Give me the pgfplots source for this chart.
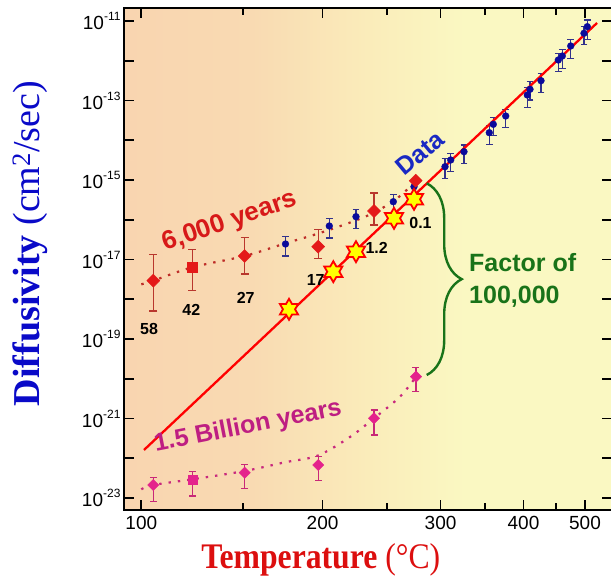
\documentclass[border=0pt]{standalone}
\usepackage{fontspec}
\setmainfont{Liberation Sans}
\newfontfamily\serifb{Liberation Serif}
\usepackage{graphicx}
\usepackage{pgfplots}
\pgfplotsset{compat=1.18}
\usetikzlibrary{decorations.pathreplacing}

\definecolor{bgL}{RGB}{249,213,176}
\definecolor{bgL2}{RGB}{249,218,178}
\definecolor{bgM}{RGB}{250,236,186}
\definecolor{bgR}{RGB}{250,248,194}
\definecolor{redM}{RGB}{228,25,25}
\definecolor{redE}{RGB}{185,55,45}
\definecolor{redDot}{RGB}{190,45,40}
\definecolor{magM}{RGB}{228,35,140}
\definecolor{magE}{RGB}{200,40,120}
\definecolor{magDot}{RGB}{200,40,125}
\definecolor{bluM}{RGB}{10,10,155}
\definecolor{bluE}{RGB}{50,50,140}
\definecolor{grn}{RGB}{25,115,25}
\definecolor{dataB}{RGB}{25,40,195}
\definecolor{redT}{RGB}{215,25,25}
\definecolor{magT}{RGB}{190,30,130}
\definecolor{ylab}{RGB}{10,10,200}
\definecolor{xlab}{RGB}{220,15,15}

\pgfdeclarehorizontalshading{bgshade}{100bp}{color(0bp)=(bgL); color(25bp)=(bgL); color(38bp)=(bgL2); color(50bp)=(bgM); color(60bp)=(bgR); color(75bp)=(bgR); color(100bp)=(bgR)}

\pgfdeclareplotmark{hexstar}{%
  \pgfpathmoveto{\pgfpointpolar{90}{\pgfplotmarksize}}%
  \pgfpathlineto{\pgfpointpolar{120}{0.577\pgfplotmarksize}}%
  \pgfpathlineto{\pgfpointpolar{150}{\pgfplotmarksize}}%
  \pgfpathlineto{\pgfpointpolar{180}{0.577\pgfplotmarksize}}%
  \pgfpathlineto{\pgfpointpolar{210}{\pgfplotmarksize}}%
  \pgfpathlineto{\pgfpointpolar{240}{0.577\pgfplotmarksize}}%
  \pgfpathlineto{\pgfpointpolar{270}{\pgfplotmarksize}}%
  \pgfpathlineto{\pgfpointpolar{300}{0.577\pgfplotmarksize}}%
  \pgfpathlineto{\pgfpointpolar{330}{\pgfplotmarksize}}%
  \pgfpathlineto{\pgfpointpolar{0}{0.577\pgfplotmarksize}}%
  \pgfpathlineto{\pgfpointpolar{30}{\pgfplotmarksize}}%
  \pgfpathlineto{\pgfpointpolar{60}{0.577\pgfplotmarksize}}%
  \pgfpathclose
  \pgfusepathqfillstroke}

\newcommand{\tl}[1]{10\raisebox{9pt}{\fontsize{12}{12}\selectfont -#1}}

\begin{document}
\begin{tikzpicture}
\useasboundingbox (-124pt,-68pt) rectangle (487pt,510pt);
\begin{axis}[
  at={(0pt,0pt)}, anchor=south west,
  scale only axis, width=488pt, height=502pt,
  x dir=reverse, xmin=1.2090, xmax=2.7340,
  ymin=-23.302, ymax=-10.673,
  clip=false,
  axis line style={line width=2.3pt},
  xtick={2.67989,2.11349,1.74474,1.48555,1.29341},
  xticklabels={100,200,300,400,500},
  minor xtick={2.36323,1.91150,1.60475,1.38284},
  ytick={-23,-22,...,-11},
  yticklabels={\tl{23},,\tl{21},,\tl{19},,\tl{17},,\tl{15},,\tl{13},,\tl{11}},
  tick align=inside,
  major tick length=10pt, minor tick length=7pt,
  every tick/.style={line width=1.8pt, black},
  ticklabel style={font=\fontsize{19}{22}\selectfont},
  xticklabel style={yshift=-3pt},
  axis background/.style={shade, shading=bgshade},
]
% dotted curves
\addplot[no markers, smooth, tension=0.55, draw=redDot, line width=2.2pt, dash pattern=on 2.4pt off 7pt] coordinates {
(2.6799,-17.624) (2.6424,-17.533) (2.5205,-17.196) (2.3568,-16.912) (2.2308,-16.597)
(2.1121,-16.308) (1.9755,-15.906) (1.8871,-15.503) (1.8215,-15.025)};
\addplot[no markers, smooth, tension=0.55, draw=magDot, line width=2.2pt, dash pattern=on 2.4pt off 7pt] coordinates {
(2.6799,-22.781) (2.6424,-22.673) (2.5205,-22.530) (2.3568,-22.321) (2.2308,-22.102)
(2.1277,-21.931) (2.0277,-21.465) (1.9527,-20.995) (1.8715,-20.452) (1.8215,-19.948)};
% 1.5 billion years points
\addplot[only marks, mark=square*, mark size=4.0pt, mark options={rotate=45, fill=magM, draw=magM},
  error bars/.cd, y dir=both, y explicit,
  error bar style={line width=1.3pt, magE},
  error mark options={rotate=90, magE, line width=1.3pt, mark size=3.5pt}] coordinates {
(2.6424,-22.673) += (0,0.19) -= (0,0.42)
(2.3568,-22.364) += (0,0.21) -= (0,0.39)
(2.1271,-22.170) += (0,0.21) -= (0,0.39)
(1.9527,-20.995) += (0,0.21) -= (0,0.42)
(1.8215,-19.948) += (0,0.23) -= (0,0.38)};
\addplot[only marks, mark=square*, mark size=4.4pt, mark options={fill=magM, draw=magM},
  error bars/.cd, y dir=both, y explicit,
  error bar style={line width=1.3pt, magE},
  error mark options={rotate=90, magE, line width=1.3pt, mark size=3.5pt}] coordinates {
(2.5205,-22.530) += (0,0.19) -= (0,0.42)};
% 6,000 years points
\addplot[only marks, mark=square*, mark size=4.6pt, mark options={rotate=45, fill=redM, draw=redM},
  error bars/.cd, y dir=both, y explicit,
  error bar style={line width=1.3pt, redE},
  error mark options={rotate=90, redE, line width=1.3pt, mark size=4pt}] coordinates {
(2.6424,-17.533) += (0,0.65) -= (0,0.76)
(2.3568,-16.912) += (0,0.47) -= (0,0.45)
(2.1271,-16.678) += (0,0.44) -= (0,0.29)
(1.9527,-15.780) += (0,0.45) -= (0,0.35)};
\addplot[only marks, mark=square*, mark size=4.8pt, mark options={fill=redM, draw=redM},
  error bars/.cd, y dir=both, y explicit,
  error bar style={line width=1.3pt, redE},
  error mark options={rotate=90, redE, line width=1.3pt, mark size=4pt}] coordinates {
(2.5205,-17.196) += (0,0.45) -= (0,0.59)};
% data points
\addplot[only marks, mark=*, mark size=3.4pt, mark options={fill=bluM, draw=bluM},
  error bars/.cd, y dir=both, y explicit,
  error bar style={line width=1.2pt, bluE},
  error mark options={rotate=90, bluE, line width=1.2pt, mark size=3.4pt}] coordinates {
(2.2293,-16.610) += (0,0.18) -= (0,0.30)
(2.0924,-16.157) += (0,0.18) -= (0,0.30)
(2.0090,-15.923) += (0,0.18) -= (0,0.30)
(1.8924,-15.546) += (0,0.18) -= (0,0.28)
(1.8277,-15.169) += (0,0.15) -= (0,0.15)
(1.7308,-14.665) += (0,0.21) -= (0,0.29)
(1.7130,-14.497) += (0,0.17) -= (0,0.29)
(1.6715,-14.288) += (0,0.17) -= (0,0.29)
(1.5924,-13.810) += (0,0.19) -= (0,0.29)
(1.5799,-13.599) += (0,0.18) -= (0,0.29)
(1.5411,-13.390) += (0,0.17) -= (0,0.29)
(1.4736,-12.862) += (0,0.19) -= (0,0.31)
(1.4652,-12.718) += (0,0.19) -= (0,0.27)
(1.4308,-12.502) += (0,0.19) -= (0,0.30)
(1.3768,-11.981) += (0,0.17) -= (0,0.29)
(1.3643,-11.881) += (0,0.17) -= (0,0.31)
(1.3380,-11.629) += (0,0.17) -= (0,0.31)
(1.2965,-11.309) += (0,0.17) -= (0,0.29)
(1.2861,-11.143) += (0,0.17) -= (0,0.32)};
\addplot[only marks, mark=square*, mark size=4.6pt, mark options={rotate=45, fill=redM, draw=redM}] coordinates {(1.8224,-15.018)};
% fit line
\addplot[no markers, draw={rgb,255:red,255;green,0;blue,0}, line width=2.3pt] coordinates {(2.6715,-21.792) (1.2558,-11.050)};
% stars
\addplot[only marks, mark=hexstar, mark size=10.5pt, mark options={fill={rgb,255:red,255;green,255;blue,0}, draw={rgb,255:red,255;green,0;blue,0}, line width=1.8pt}] coordinates {
(2.2183,-18.253) (2.0799,-17.307) (2.0090,-16.804) (1.8902,-15.964) (1.8277,-15.486)};
% brace
\draw[decorate, decoration={brace, amplitude=35pt}, draw=grn, line width=2.4pt] (axis cs:1.7880,-15.083) -- (axis cs:1.7880,-19.906);
% annotations
\node[rotate=19, text=redT, font=\fontsize{26}{28}\selectfont\bfseries] at (axis cs:2.4027,-16.057) {6,000 years};
\node[rotate=40, text=dataB, font=\fontsize{25}{28}\selectfont\bfseries] at (axis cs:1.8090,-14.321) {Data};
\node[rotate=11, text=magT, font=\fontsize{25}{28}\selectfont\bfseries] at (axis cs:2.3465,-21.214) {1.5 Billion years};
\node[anchor=west, inner sep=0pt, align=left, text=grn, font=\fontsize{25}{32}\selectfont\bfseries] at (axis cs:1.6558,-17.528) {Factor of\\100,000};
\node[font=\fontsize{16}{18}\selectfont\bfseries] at (axis cs:2.6558,-18.756) {58};
\node[font=\fontsize{16}{18}\selectfont\bfseries] at (axis cs:2.5236,-18.270) {42};
\node[font=\fontsize{16}{18}\selectfont\bfseries] at (axis cs:2.3536,-17.961) {27};
\node[font=\fontsize{16}{18}\selectfont\bfseries] at (axis cs:2.1349,-17.516) {17};
\node[font=\fontsize{16}{18}\selectfont\bfseries] at (axis cs:1.9443,-16.698) {1.2};
\node[font=\fontsize{16}{18}\selectfont\bfseries] at (axis cs:1.8074,-16.082) {0.1};
% axis labels
\node[rotate=90, text=ylab, font=\fontsize{38}{40}\selectfont\serifb] at (axis description cs:-0.1926,0.5309) {\bfseries Diffusivity \mdseries(cm\textsuperscript{2}/sec)};
\node[text=xlab, font=\fontsize{36}{40}\selectfont\serifb] at (axis description cs:0.4033,-0.0996) {\scalebox{0.88}[1]{\bfseries Temperature \mdseries(°C)}};
\end{axis}
\end{tikzpicture}
\end{document}
